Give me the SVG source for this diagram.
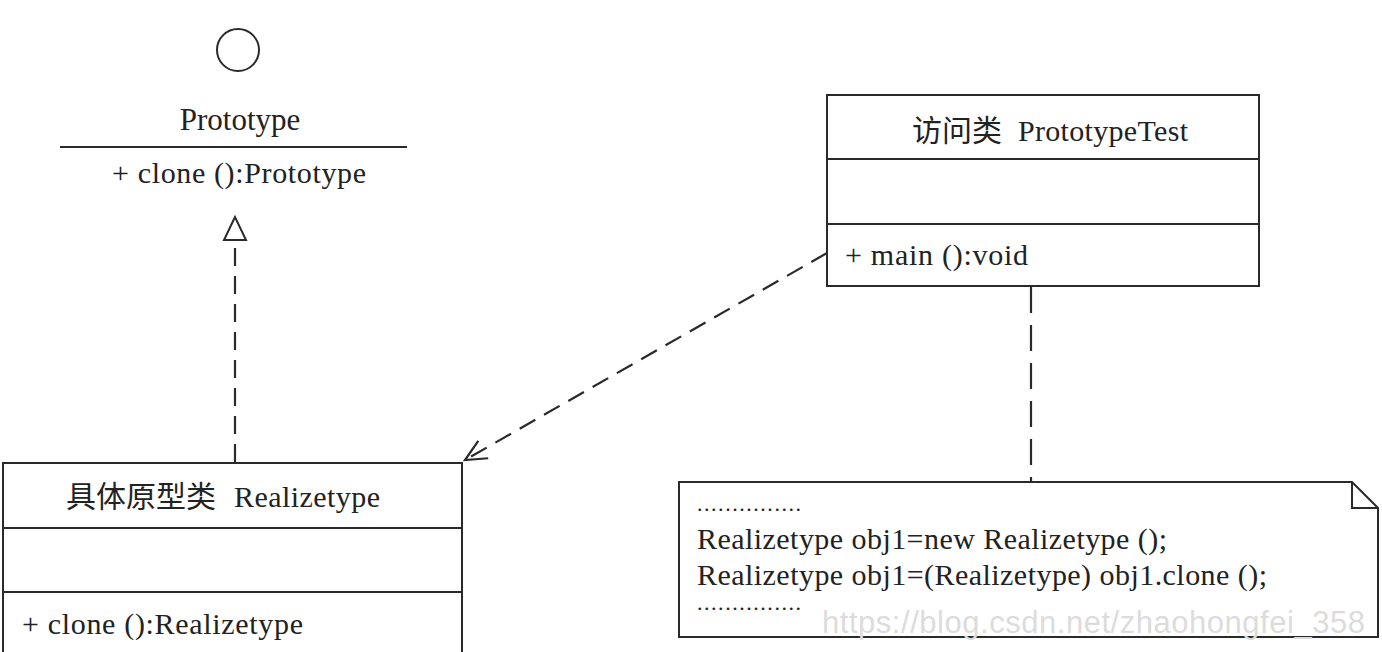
<svg xmlns="http://www.w3.org/2000/svg" width="1382" height="652" viewBox="0 0 1382 652">
<style>
.box{fill:#fff;stroke:#2a2a2a;stroke-width:2}
.ln{stroke:#2a2a2a;stroke-width:2;fill:none}
.dash{stroke:#2a2a2a;stroke-width:2.2;fill:none;stroke-dasharray:18 10}
.t{font-family:"Liberation Serif","Noto Sans CJK SC",serif;font-size:30px;fill:#222}
.wm{font-family:"Liberation Sans",sans-serif;font-size:31px;fill:#dcdcdc}
</style>
<defs>
<marker id="open" markerWidth="30" markerHeight="30" refX="22" refY="11" orient="auto" markerUnits="userSpaceOnUse" viewBox="0 0 30 22">
<path d="M1,1 L22,11 L1,21" fill="none" stroke="#2a2a2a" stroke-width="2.2"/>
</marker>
</defs>
<rect width="1382" height="652" fill="#fff"/>

<g id="connectors">
<line class="dash" x1="235" y1="462" x2="235" y2="241"/>
<path d="M235,217 L224,240 L246,240 Z" fill="#fff" stroke="#2a2a2a" stroke-width="2"/>
<line class="dash" x1="827" y1="253" x2="465" y2="460" marker-end="url(#open)"/>
<line class="dash" x1="1031" y1="287" x2="1031" y2="482" style="stroke-dasharray:26 12"/>
</g>

<g id="prototype">
<circle cx="238" cy="50" r="21" class="ln"/>
<text class="t" x="240" y="130" text-anchor="middle" style="font-size:31px">Prototype</text>
<line class="ln" x1="60" y1="147" x2="407" y2="147"/>
<text class="t" x="112" y="183" textLength="254">+ clone ():Prototype</text>
</g>

<g id="prototypeTest">
<rect class="box" x="827" y="95" width="432" height="191"/>
<line class="ln" x1="827" y1="159" x2="1259" y2="159"/>
<line class="ln" x1="827" y1="224" x2="1259" y2="224"/>
<text class="t" y="141"><tspan x="912">访问类</tspan><tspan x="1018" textLength="170">PrototypeTest</tspan></text>
<text class="t" x="845" y="265" textLength="183">+ main ():void</text>
</g>

<g id="realizetype">
<rect class="box" x="3" y="463" width="459" height="200"/>
<line class="ln" x1="3" y1="528" x2="462" y2="528"/>
<line class="ln" x1="3" y1="592" x2="462" y2="592"/>
<text class="t" y="507"><tspan x="66">具体原型类</tspan><tspan x="234" textLength="146">Realizetype</tspan></text>
<text class="t" x="22" y="634" textLength="281">+ clone ():Realizetype</text>
</g>

<g id="note">
<path class="box" d="M679,482 L1352,482 L1378,508 L1378,637 L679,637 Z"/>
<path class="ln" d="M1352,482 L1352,508 L1378,508"/>
<text class="t" x="697" y="511" style="font-size:22px" textLength="104">...............</text>
<text class="t" x="697" y="549" textLength="470">Realizetype obj1=new Realizetype ();</text>
<text class="t" x="697" y="585" textLength="570">Realizetype obj1=(Realizetype) obj1.clone ();</text>
<text class="t" x="697" y="610" style="font-size:22px" textLength="104">...............</text>
<text class="wm" x="822" y="633" textLength="543">https://blog.csdn.net/zhaohongfei_358</text>
</g>
</svg>
